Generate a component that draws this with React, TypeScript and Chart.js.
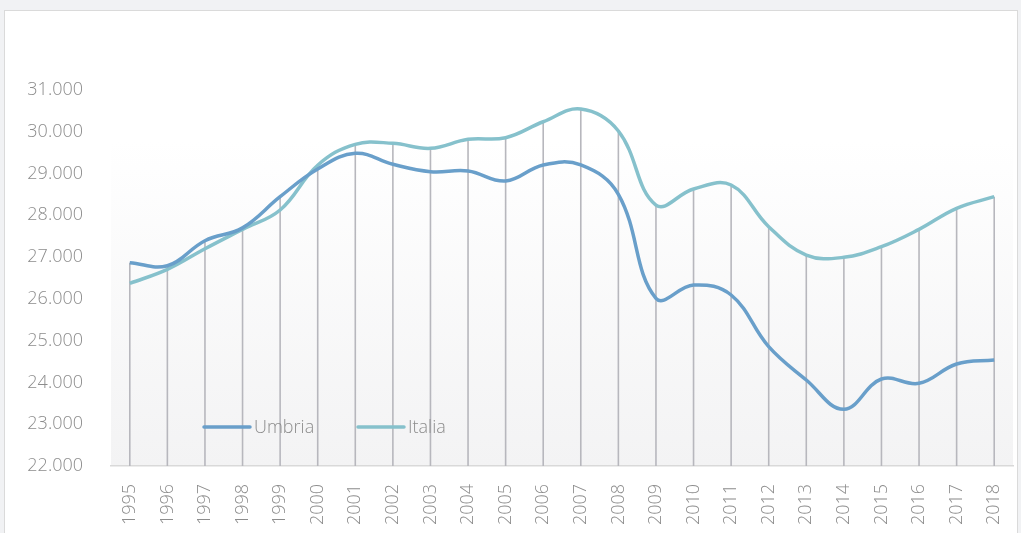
import React, { useEffect, useRef } from "react";
import { Chart, registerables } from "chart.js";

Chart.register(...registerables);

const years = ["1995","1996","1997","1998","1999","2000","2001","2002","2003","2004","2005","2006","2007","2008","2009","2010","2011","2012","2013","2014","2015","2016","2017","2018"];
const umbria = [26866,26794,27393,27700,28446,29109,29485,29221,29045,29061,28822,29205,29205,28503,26014,26332,26093,24856,24058,23357,24082,23979,24441,24537];
const italia = [26372,26707,27200,27665,28127,29200,29700,29724,29604,29820,29858,30240,30545,30018,28247,28630,28725,27728,27050,26995,27249,27665,28168,28446];
const yTicks = [22000,23000,24000,25000,26000,27000,28000,29000,30000,31000];

const UMBRIA_COLOR = "#699fca";
const ITALIA_COLOR = "#86c1cc";
const TEXT_COLOR = "#8c8c8c";
const FONT = "'Open Sans', 'Noto Sans', sans-serif";

const fmt = (v: number) => {
  const s = Math.round(v).toString();
  return s.replace(/\B(?=(\d{3})+(?!\d))/g, ".");
};

const bgPlugin = {
  id: "bgGrad",
  beforeDraw(chart: any) {
    const { ctx, chartArea } = chart;
    const top = chartArea.top + 50;
    const g = ctx.createLinearGradient(0, top, 0, chartArea.bottom);
    g.addColorStop(0, "#ffffff");
    g.addColorStop(1, "#f3f3f4");
    ctx.save();
    ctx.fillStyle = g;
    ctx.fillRect(chartArea.left, top, chartArea.right - chartArea.left, chartArea.bottom - top);
    ctx.restore();
  },
};

const dropPlugin = {
  id: "dropLines",
  beforeDatasetsDraw(chart: any) {
    const { ctx, chartArea, scales } = chart;
    ctx.save();
    ctx.strokeStyle = "#b7b7bd";
    ctx.lineWidth = 1.6;
    years.forEach((_, i) => {
      const x = scales.x.getPixelForValue(i);
      const v = Math.max(umbria[i], italia[i]);
      const y = scales.y.getPixelForValue(v);
      ctx.beginPath();
      ctx.moveTo(x, y);
      ctx.lineTo(x, chartArea.bottom);
      ctx.stroke();
    });
    ctx.restore();
  },
};

const legendPlugin = {
  id: "innerLegend",
  afterDraw(chart: any) {
    const { ctx, chartArea } = chart;
    const y = chartArea.bottom - 39;
    const items = [
      { label: "Umbria", color: UMBRIA_COLOR, x: chartArea.left + 93 },
      { label: "Italia", color: ITALIA_COLOR, x: chartArea.left + 247 },
    ];
    ctx.save();
    ctx.font = `300 18px ${FONT}`;
    ctx.textBaseline = "middle";
    ctx.textAlign = "left";
    items.forEach((it) => {
      ctx.strokeStyle = it.color;
      ctx.lineWidth = 3.5;
      ctx.lineCap = "round";
      ctx.beginPath();
      ctx.moveTo(it.x, y);
      ctx.lineTo(it.x + 46, y);
      ctx.stroke();
      ctx.fillStyle = TEXT_COLOR;
      ctx.fillText(it.label, it.x + 50, y + 1);
    });
    ctx.restore();
  },
};

export default function App() {
  const ref = useRef<HTMLCanvasElement | null>(null);
  useEffect(() => {
    if (!ref.current) return;
    const chart = new Chart(ref.current, {
      type: "line",
      data: {
        labels: years,
        datasets: [
          {
            label: "Umbria",
            data: umbria,
            borderColor: UMBRIA_COLOR,
            borderWidth: 3.5,
            tension: 0.4,
            pointRadius: 0,
            fill: false,
          },
          {
            label: "Italia",
            data: italia,
            borderColor: ITALIA_COLOR,
            borderWidth: 3.5,
            tension: 0.4,
            pointRadius: 0,
            fill: false,
          },
        ],
      },
      options: {
        animation: false,
        responsive: false,
        maintainAspectRatio: false,
        layout: { padding: { top: 90, right: 8, left: 0, bottom: 0 } },
        plugins: { legend: { display: false }, tooltip: { enabled: false }, title: { display: false } },
        scales: {
          x: {
            offset: true,
            grid: { display: false, drawTicks: false },
            border: { display: true, color: "#d9d9d9", width: 1.5 },
            ticks: {
              minRotation: 90,
              maxRotation: 90,
              autoSkip: false,
              padding: 18,
              color: TEXT_COLOR,
              font: { family: FONT, size: 18, weight: "300" as any },
            },
            afterFit(scale: any) {
              scale.height = 67;
              scale.paddingLeft = 0;
              scale.paddingRight = 0;
            },
          },
          y: {
            min: 22000,
            max: 31000,
            grid: { display: false, drawTicks: false },
            border: { display: false },
            afterBuildTicks(scale: any) {
              scale.ticks = yTicks.map((v) => ({ value: v }));
            },
            ticks: {
              padding: 28,
              color: TEXT_COLOR,
              font: { family: FONT, size: 18, weight: "300" as any },
              callback: (v: any) => fmt(Number(v)),
            },
            afterFit(scale: any) {
              scale.width = 111;
            },
          },
        },
      },
      plugins: [bgPlugin, dropPlugin, legendPlugin],
    });
    return () => chart.destroy();
  }, []);

  return (
    <div style={{ position: "fixed", left: 0, top: 0, width: 1021, height: 533, background: "#f1f2f4", overflow: "hidden" }}>
      <div style={{ position: "absolute", left: 4, top: 10, width: 1014, height: 540, background: "#ffffff", border: "1px solid #dadada", boxSizing: "border-box" }} />
      <canvas ref={ref} width={1021} height={533} style={{ position: "absolute", left: 0, top: 0, width: 1021, height: 533 }} />
    </div>
  );
}
